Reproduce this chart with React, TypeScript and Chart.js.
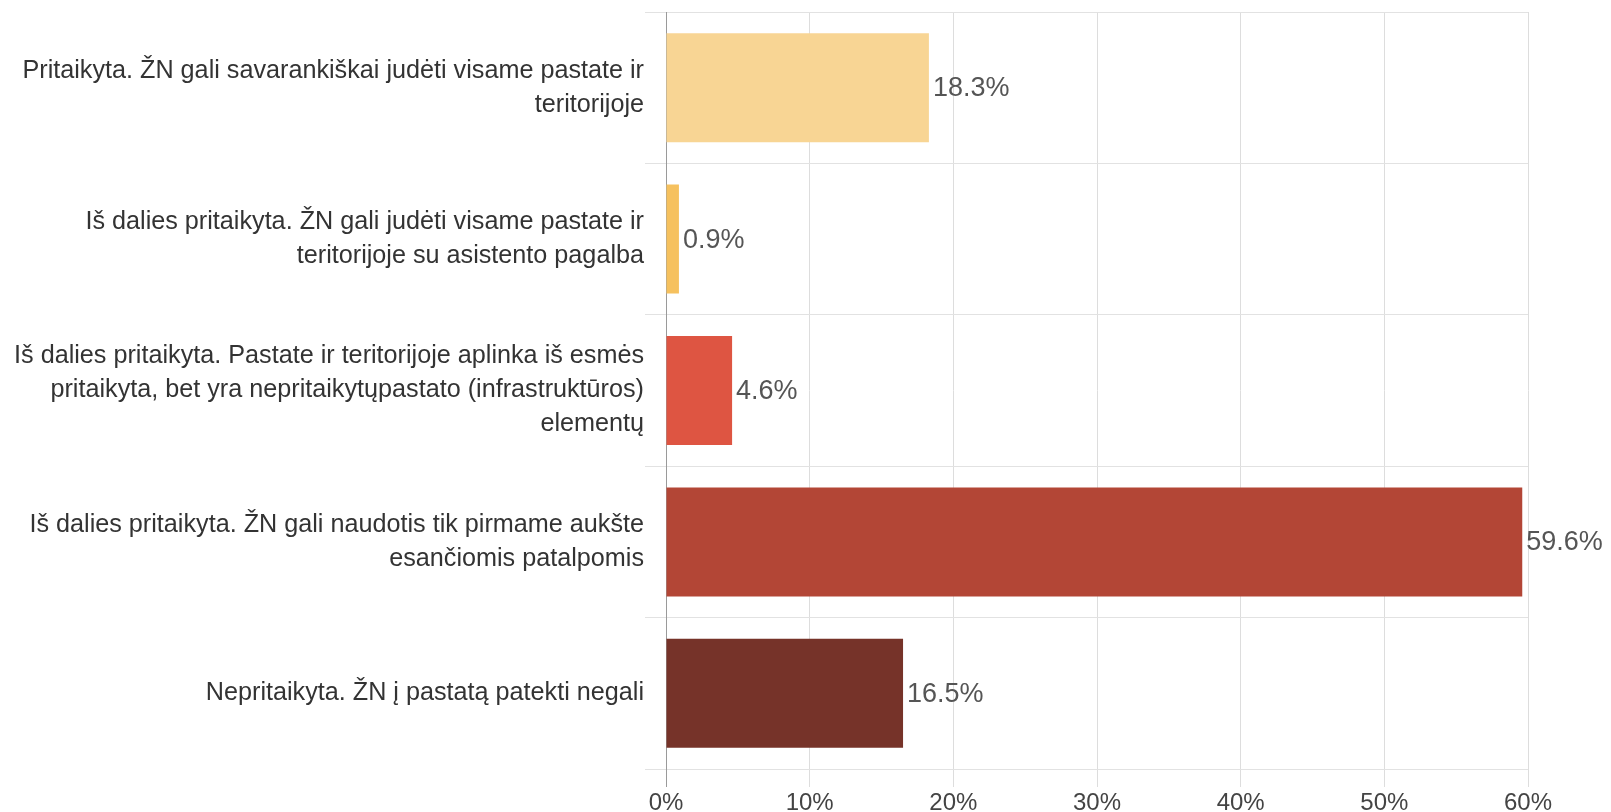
import React, { useEffect, useRef } from "react";
import { Chart, registerables } from "chart.js";

Chart.register(...registerables);

const categories: (string | string[])[] = [
  ["Pritaikyta. ŽN gali savarankiškai judėti visame pastate ir", "teritorijoje"],
  ["Iš dalies pritaikyta. ŽN gali judėti visame pastate ir", "teritorijoje su asistento pagalba"],
  [
    "Iš dalies pritaikyta. Pastate ir teritorijoje aplinka iš esmės",
    "pritaikyta, bet yra nepritaikytųpastato (infrastruktūros)",
    "elementų",
  ],
  ["Iš dalies pritaikyta. ŽN gali naudotis tik pirmame aukšte", "esančiomis patalpomis"],
  "Nepritaikyta. ŽN į pastatą patekti negali",
];

const values: number[] = [18.3, 0.9, 4.6, 59.6, 16.5];
const barColors: string[] = ["#F8D594", "#F6C15E", "#DE5542", "#B34636", "#763329"];
const xTicks: number[] = [0, 10, 20, 30, 40, 50, 60];

const FONT = "'Liberation Sans', Arial, sans-serif";

const valueLabelPlugin = {
  id: "valueLabels",
  afterDatasetsDraw(chart: any) {
    const ctx = chart.ctx;
    const meta = chart.getDatasetMeta(0);
    ctx.save();
    ctx.font = `27px ${FONT}`;
    ctx.fillStyle = "#555555";
    ctx.textAlign = "left";
    ctx.textBaseline = "middle";
    meta.data.forEach((bar: any, i: number) => {
      const v = values[i];
      ctx.fillText(v.toFixed(1) + "%", bar.x + 4, bar.y + 1);
    });
    ctx.restore();
  },
};

export default function App() {
  const ref = useRef<HTMLCanvasElement | null>(null);
  useEffect(() => {
    if (!ref.current) return;
    const chart = new Chart(ref.current, {
      type: "bar",
      data: {
        labels: categories,
        datasets: [
          {
            data: values,
            backgroundColor: barColors,
            borderWidth: 0,
            barPercentage: 0.9,
            categoryPercentage: 0.8,
          },
        ],
      },
      options: {
        indexAxis: "y",
        animation: false,
        responsive: true,
        maintainAspectRatio: false,
        layout: { padding: { top: 12, right: 83, bottom: 0, left: 0 } },
        plugins: {
          legend: { display: false },
          tooltip: { enabled: false },
        },
        scales: {
          x: {
            min: 0,
            max: 60,
            afterBuildTicks: (scale: any) => {
              scale.ticks = xTicks.map((v) => ({ value: v }));
            },
            afterFit: (scale: any) => {
              scale.height = 43;
              scale.paddingLeft = 0;
              scale.paddingRight = 0;
            },
            grid: {
              color: (c: any) => (c.tick && c.tick.value === 0 ? "#9a9a9a" : "#dddddd"),
              lineWidth: 1,
              tickLength: 18,
            },
            border: { display: false },
            ticks: {
              padding: 2,
              color: "#444444",
              font: { family: FONT, size: 24 },
              callback: (v: any) => v + "%",
            },
          },
          y: {
            afterFit: (scale: any) => {
              scale.width = 666;
              scale.paddingTop = 0;
              scale.paddingBottom = 0;
            },
            grid: {
              offset: true,
              color: "#e2e2e2",
              lineWidth: 1,
              tickLength: 21,
            },
            border: { display: true, color: "#9a9a9a" },
            ticks: {
              padding: 1,
              color: "#333333",
              font: { family: FONT, size: 25.2, lineHeight: 1.35 },
            },
          },
        },
      },
      plugins: [valueLabelPlugin],
    });
    return () => chart.destroy();
  }, []);
  return (
    <div style={{ position: "fixed", left: 0, top: 0, width: 1611, height: 812, background: "#fff" }}>
      <canvas ref={ref} />
    </div>
  );
}
